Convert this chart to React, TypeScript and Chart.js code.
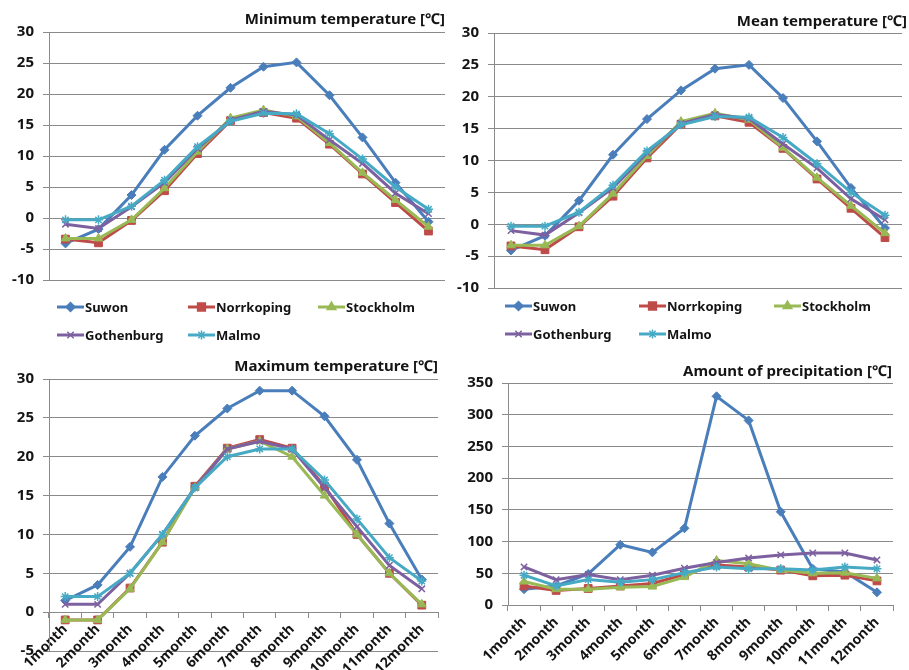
import React, { useEffect, useRef } from 'react';
import { Chart, registerables } from 'chart.js';
import { drawPoint } from 'chart.js/helpers';

Chart.register(...registerables);

// ---------- data ----------
const months = ['1month', '2month', '3month', '4month', '5month', '6month', '7month', '8month', '9month', '10month', '11month', '12month'];
const seriesNames = ['Suwon', 'Norrkoping', 'Stockholm', 'Gothenburg', 'Malmo'];

const minSuwon = [-4.1, -1.8, 3.7, 11.0, 16.5, 21.0, 24.4, 25.1, 19.8, 13.0, 5.7, -0.6];
const minNorrkoping = [-3.4, -4.0, -0.4, 4.4, 10.4, 15.7, 17.0, 16.1, 11.9, 7.1, 2.5, -2.1];
const minStockholm = [-3.3, -3.3, -0.3, 4.8, 10.7, 16.1, 17.4, 16.4, 12.1, 7.3, 2.9, -1.4];
const minGothenburg = [-1.0, -1.7, 1.8, 5.7, 11.2, 15.8, 17.2, 16.6, 12.6, 8.8, 4.0, 0.7];
const minMalmo = [-0.3, -0.3, 1.9, 6.1, 11.5, 15.6, 16.9, 16.8, 13.6, 9.5, 5.0, 1.4];

const meanSuwon = [-4.1, -1.8, 3.7, 10.9, 16.5, 21.0, 24.4, 25.0, 19.8, 13.0, 5.7, -0.6];
const meanNorrkoping = [-3.4, -4.0, -0.4, 4.4, 10.4, 15.7, 17.0, 16.0, 11.9, 7.1, 2.5, -2.1];
const meanStockholm = [-3.3, -3.3, -0.3, 4.8, 10.7, 16.1, 17.4, 16.4, 12.0, 7.3, 2.9, -1.4];
const meanGothenburg = [-1.0, -1.7, 1.8, 5.7, 11.2, 15.8, 17.2, 16.6, 12.6, 8.8, 4.0, 0.7];
const meanMalmo = [-0.3, -0.3, 1.9, 6.1, 11.5, 15.6, 16.9, 16.8, 13.6, 9.5, 5.0, 1.4];

const maxSuwon = [1.5, 3.5, 8.4, 17.4, 22.7, 26.2, 28.5, 28.5, 25.2, 19.6, 11.4, 4.2];
const maxNorrkoping = [-1.0, -1.0, 3.1, 9.0, 16.2, 21.1, 22.2, 21.1, 16.2, 10.0, 5.0, 0.9];
const maxStockholm = [-1.0, -1.0, 3.0, 9.0, 16.0, 21.0, 22.0, 20.0, 15.0, 10.0, 5.0, 1.0];
const maxGothenburg = [1.0, 1.0, 5.0, 10.0, 16.0, 21.0, 22.0, 21.0, 16.0, 11.0, 6.0, 3.0];
const maxMalmo = [2.0, 2.0, 5.0, 10.0, 16.0, 20.0, 21.0, 21.0, 17.0, 12.0, 7.0, 4.0];

const precSuwon = [25, 30, 49, 95, 83, 121, 329, 291, 147, 57, 52, 20];
const precNorrkoping = [30, 23, 26, 30, 34, 48, 63, 60, 55, 46, 47, 38];
const precStockholm = [37, 25, 25, 28, 29, 44, 70, 65, 55, 50, 51, 42];
const precGothenburg = [60, 40, 48, 40, 47, 58, 67, 74, 79, 82, 82, 71];
const precMalmo = [47, 30, 40, 36, 40, 51, 60, 57, 57, 55, 60, 57];

// ---------- styling ----------
const COLORS = ['#4A7EBB', '#BE4B48', '#98B954', '#7D60A0', '#46AAC5'];
const STYLES = ['rectRot', 'rect', 'triangle', 'crossRot', 'star'];
const RADII = [4.5, 5.5, 5, 4.5, 4.5];
const GRID = '#8a8a8a';
const TEXT = '#141414';
const FONT = '"Noto Sans", "DejaVu Sans", sans-serif';
const W = 909;
const H = 670;
const YW = 46;

type Panel = {
  title: string;
  series: number[][];
  area: { left: number; top: number; right: number; bottom: number };
  yMin: number;
  yMax: number;
  yStep: number;
  titleX: number;
  titleY: number;
  legend: { xs: number[]; ys: number[] } | null;
  showX: boolean;
};

const panels: Panel[] = [
  {
    title: 'Minimum temperature [℃]',
    series: [minSuwon, minNorrkoping, minStockholm, minGothenburg, minMalmo],
    area: { left: 49, top: 32, right: 445, bottom: 280 },
    yMin: -10, yMax: 30, yStep: 5,
    titleX: 445, titleY: 20,
    legend: { xs: [57, 188, 318], ys: [307, 335] },
    showX: false,
  },
  {
    title: 'Mean temperature [℃]',
    series: [meanSuwon, meanNorrkoping, meanStockholm, meanGothenburg, meanMalmo],
    area: { left: 494, top: 33, right: 902, bottom: 288 },
    yMin: -10, yMax: 30, yStep: 5,
    titleX: 907, titleY: 22,
    legend: { xs: [505, 639, 774], ys: [306, 334] },
    showX: false,
  },
  {
    title: 'Maximum temperature [℃]',
    series: [maxSuwon, maxNorrkoping, maxStockholm, maxGothenburg, maxMalmo],
    area: { left: 49, top: 379, right: 438, bottom: 651 },
    yMin: -5, yMax: 30, yStep: 5,
    titleX: 438, titleY: 367,
    legend: null,
    showX: true,
  },
  {
    title: 'Amount of precipitation [℃]',
    series: [precSuwon, precNorrkoping, precStockholm, precGothenburg, precMalmo],
    area: { left: 508, top: 383, right: 893, bottom: 605 },
    yMin: 0, yMax: 350, yStep: 50,
    titleX: 892, titleY: 372,
    legend: null,
    showX: true,
  },
];

const overlayPlugin = {
  id: 'overlay',
  afterDraw(chart: any, _args: any, opts: any) {
    const ctx = chart.ctx;
    ctx.save();
    ctx.fillStyle = TEXT;
    ctx.font = `bold 15px ${FONT}`;
    ctx.textAlign = 'right';
    ctx.textBaseline = 'middle';
    ctx.fillText(opts.title, opts.titleX, opts.titleY);
    if (opts.legend) {
      const lg = opts.legend;
      chart.data.datasets.forEach((ds: any, i: number) => {
        const x0 = lg.xs[i % 3];
        const y = lg.ys[Math.floor(i / 3)];
        ctx.strokeStyle = ds.borderColor;
        ctx.lineWidth = 3;
        ctx.beginPath();
        ctx.moveTo(x0, y);
        ctx.lineTo(x0 + 27, y);
        ctx.stroke();
        ctx.fillStyle = ds.borderColor;
        ctx.lineWidth = 1.5;
        drawPoint(ctx, { pointStyle: ds.pointStyle, radius: ds.pointRadius, borderWidth: 1.5, rotation: 0 } as any, x0 + 13.5, y);
        ctx.fillStyle = TEXT;
        ctx.font = `bold 13px ${FONT}`;
        ctx.textAlign = 'left';
        ctx.textBaseline = 'middle';
        ctx.fillText(ds.label, x0 + 28, y + 1);
      });
    }
    ctx.restore();
  },
};

function buildConfig(p: Panel): any {
  const datasets = p.series.map((vals, i) => ({
    label: seriesNames[i],
    data: vals,
    order: 5 - i,
    borderColor: COLORS[i],
    backgroundColor: COLORS[i],
    pointBackgroundColor: COLORS[i],
    pointBorderColor: COLORS[i],
    pointStyle: STYLES[i],
    pointRadius: RADII[i],
    pointBorderWidth: i >= 3 ? 1.5 : 1,
    borderWidth: 3,
    tension: 0,
    fill: false,
  }));
  const zeroPad = (s: any) => {
    s.paddingLeft = 0; s.paddingRight = 0; s.paddingTop = 0; s.paddingBottom = 0;
  };
  return {
    type: 'line',
    data: { labels: months, datasets },
    options: {
      responsive: false,
      animation: false,
      devicePixelRatio: 1,
      events: [],
      layout: {
        padding: {
          left: p.area.left - YW,
          top: p.area.top,
          right: W - p.area.right,
          bottom: H - p.area.bottom,
        },
      },
      plugins: {
        legend: { display: false },
        title: { display: false },
        tooltip: { enabled: false },
        overlay: { title: p.title, titleX: p.titleX, titleY: p.titleY, legend: p.legend },
      },
      scales: {
        x: {
          type: 'category',
          offset: true,
          display: p.showX,
          position: p.showX ? { y: 0 } : 'bottom',
          grid: { display: true, drawOnChartArea: false, drawTicks: true, tickLength: 5, color: GRID, offset: true },
          border: { display: true, color: GRID },
          ticks: {
            minRotation: 45, maxRotation: 45, autoSkip: false, padding: 4,
            color: TEXT, font: { family: FONT, size: 14, weight: 'bold' },
          },
          afterFit: (s: any) => { s.height = 0; zeroPad(s); },
        },
        y: {
          min: p.yMin,
          max: p.yMax,
          ticks: { stepSize: p.yStep, padding: 9, color: TEXT, font: { family: FONT, size: 15, weight: 'bold' } },
          grid: { color: GRID, tickLength: 6, drawTicks: true },
          border: { display: true, color: GRID },
          afterFit: (s: any) => { s.width = YW; zeroPad(s); },
        },
      },
    },
    plugins: [overlayPlugin],
  };
}

function PanelChart({ panel }: { panel: Panel }) {
  const ref = useRef<HTMLCanvasElement | null>(null);
  useEffect(() => {
    if (!ref.current) return;
    const chart = new Chart(ref.current, buildConfig(panel));
    return () => chart.destroy();
  }, [panel]);
  return (
    <canvas
      ref={ref}
      width={W}
      height={H}
      style={{ position: 'absolute', left: 0, top: 0, width: W, height: H }}
    />
  );
}

export default function App() {
  return (
    <div style={{ position: 'absolute', left: 0, top: 0, width: W, height: H, background: '#fff', overflow: 'hidden' }}>
      {panels.map((p, i) => (
        <PanelChart key={i} panel={p} />
      ))}
    </div>
  );
}
